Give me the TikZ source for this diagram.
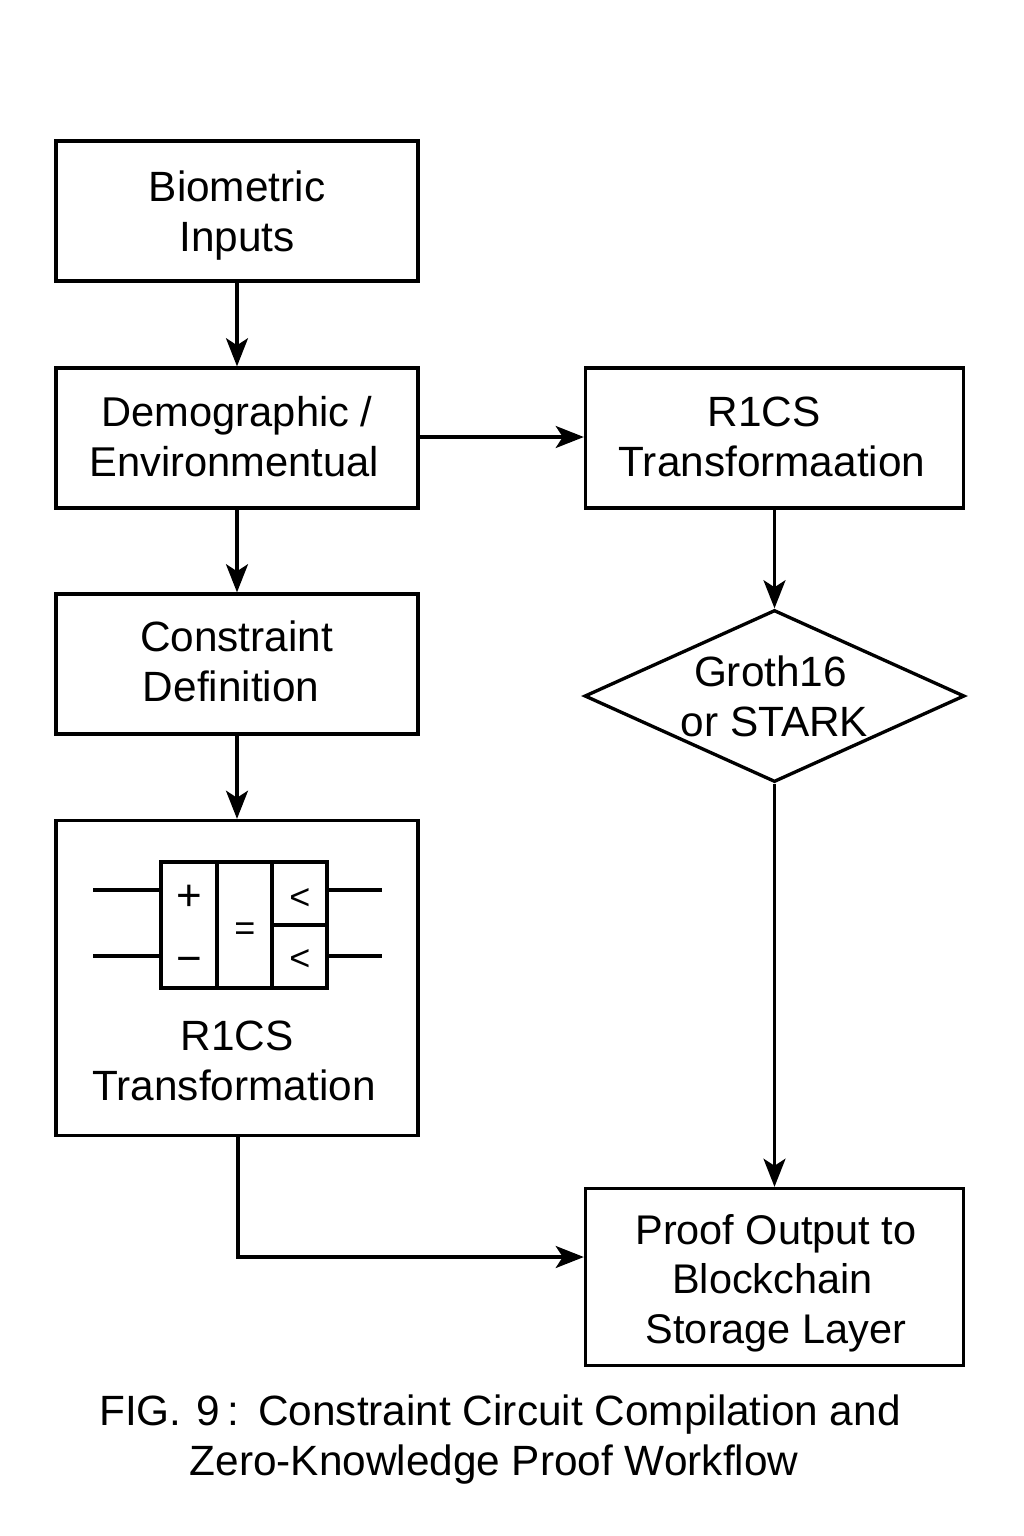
\documentclass[tikz,border=0pt]{standalone}
\usepackage{fontspec}
\setmainfont{Liberation Sans}
\usetikzlibrary{shapes,calc,positioning,arrows.meta}
\tikzset{
  flowbox/.style={draw,line width=1.9pt,inner sep=0pt,align=center},
  flowtext/.style={font=\fontsize{24.1}{28.3}\selectfont,align=center,inner sep=0pt},
  flowarrow/.style={line width=1.9pt,-{Stealth[length=16pt,width=12.5pt,inset=4pt]}},
  wire/.style={line width=2.1pt},
  gatesym/.style={inner sep=0pt,font=\fontsize{25}{28}\selectfont},
  gatesmall/.style={inner sep=0pt,font=\fontsize{20.5}{24}\selectfont}
}
\begin{document}
\begin{tikzpicture}[x=0.02cm,y=-0.02cm]
\useasboundingbox (0,0) rectangle (1024,1536);

\node[flowbox,minimum width=362*0.02cm,minimum height=140*0.02cm] (bio) at (237,211) {};
\node[flowtext] (biotext) at (237,215.5) {Biometric\\Inputs};

\node[flowbox,minimum width=362*0.02cm,minimum height=140*0.02cm] (demo) at (237,438) {};
\node[flowtext,font=\fontsize{23.7}{28.3}\selectfont] (demotext) at (234.5,436.5) {Demographic /\kern-3pt\\Environmentual};

\node[flowbox,minimum width=362*0.02cm,minimum height=140*0.02cm] (con) at (237,664) {};
\node[flowtext] (context) at (236.5,661) {Constraint\\Definition\kern6pt};

\node[flowbox,minimum width=362*0.02cm,minimum height=315*0.02cm] (circ) at (237,978) {};
\node[flowtext] (circtext) at (234,1061) {R1CS\kern-3.5pt\\Transformation};

\node[flowbox,minimum width=378*0.02cm,minimum height=140*0.02cm] (trans) at (774.5,438) {};
\node[flowtext] (transtext) at (772,437) {R1CS\kern9pt\\Transformaation};

\node[draw,diamond,line width=1.9pt,minimum width=380*0.02cm,minimum height=172*0.02cm,inner sep=0pt,aspect=2.2] (groth) at (774.5,696) {};
\node[flowtext] (grothtext) at (774.5,696.5) {Groth16\kern4.5pt\\or STARK};

\node[flowbox,minimum width=378*0.02cm,minimum height=177*0.02cm] (proof) at (774.5,1277) {};
\node[flowtext,font=\fontsize{23.6}{28.2}\selectfont] (prooftext) at (776,1283) {Proof Output to\\Blockchain\kern4pt\\Storage Layer};

\coordinate (proofin) at (proof.west|-237,1257);
\coordinate (transin) at (trans.west|-237,437);
\coordinate (demoout) at (demo.east|-237,437);
\coordinate (circout) at (238,1136);

\draw[flowarrow] (bio) -- (demo);
\draw[flowarrow] (demo) -- (con);
\draw[flowarrow] (con) -- (circ);
\draw[flowarrow] (demoout) -- (transin);
\draw[flowarrow] (trans) -- (groth);
\draw[flowarrow] (groth) -- (proof);
\draw[flowarrow] (circout) |- (proofin);

% gate
\node[draw,wire,minimum width=166*0.02cm,minimum height=126*0.02cm,inner sep=0pt] (gate) at (244,925) {};
\draw[wire] (217,863) -- (217,988);
\draw[wire] (272,863) -- (272,988);
\draw[wire] (272,925) -- (327,925);
\draw[wire] (93,890) -- (161,890);
\draw[wire] (93,956) -- (161,956);
\draw[wire] (327,890) -- (382,890);
\draw[wire] (327,956) -- (382,956);
\node[gatesym] (plus) at (189,898) {+};
\node[gatesym] (minus) at (189,965) {−};
\node[gatesmall] (eq) at (245,932) {=};
\node[gatesmall] (ltop) at (300,899) {<};
\node[gatesmall] (lbot) at (300,960) {<};

\node[flowtext] (figA) at (500,1415) {FIG.\hspace{1.5pt} 9\kern4.4pt:\hspace{2pt} Constraint Circuit Compilation and};
\node[flowtext] (figB) at (494,1465) {Zero-Knowledge Proof Workflow};

\end{tikzpicture}
\end{document}
